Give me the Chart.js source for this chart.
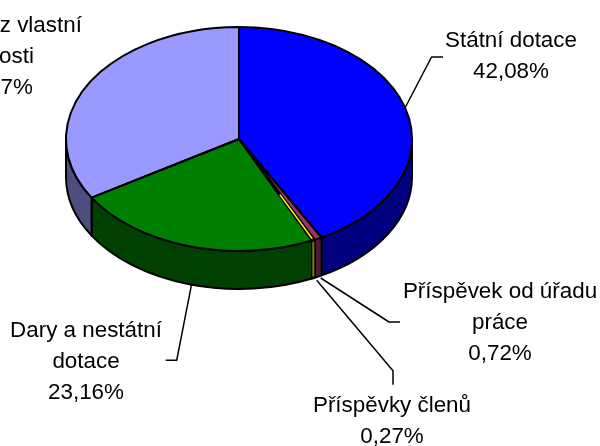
<!DOCTYPE html>
<html><head><meta charset="utf-8">
<style>html,body{margin:0;padding:0;background:#fff}canvas{display:block}</style>
<script src="https://cdn.jsdelivr.net/npm/chart.js@4"></script>
</head><body>
<canvas id="c" width="600" height="446"></canvas>
<script>
const categories = ["Státní dotace", "Příspěvek od úřadu práce", "Příspěvky členů", "Dary a nestátní dotace", "Příjmy z vlastní činnosti"];
const values = [42.08, 0.72, 0.27, 23.16, 33.77];
const topColors = ["#0000FF", "#993366", "#FFFF00", "#008000", "#9999FF"];
const sideColors = ["#000080", "#4D1933", "#808000", "#004000", "#4D4D80"];
const labelLines = [["Státní dotace"], ["Příspěvek od úřadu", "práce"], ["Příspěvky členů"], ["Dary a nestátní", "dotace"], ["Příjmy z vlastní", "činnosti"]];
const labelCenters = [[511, 41], [500, 292], [392, 406], [86, 331], [-5, 26]];
const lineShifts = [[], [], [], [], [11, 1, 0]];
const leaders = [
  [[405,108],[431.5,57],[443,57]],
  [[320.7,278],[389,322],[400,322]],
  [[316.7,280.3],[393,370.7],[393,384.7]],
  [[191.7,283.7],[176.7,360.3],[165.7,360.3]],
  []
];
const squash = 112 / 173, depth = 38, lineW = 2;
const fontSpec = '22.4px "Liberation Sans", Arial, sans-serif', lineGap = 31;

const pie3d = {
  id: 'pie3d',
  beforeDatasetsDraw(chart) {
    const ctx = chart.ctx, arcs = chart.getDatasetMeta(0).data;
    const cx = arcs[0].x, cy = arcs[0].y, rx = arcs[0].outerRadius, ry = rx * squash;
    ctx.save();
    ctx.lineWidth = lineW; ctx.strokeStyle = '#000'; ctx.lineJoin = 'round';
    arcs.forEach((a, i) => {
      const a0 = Math.max(a.startAngle, 0), a1 = Math.min(a.endAngle, Math.PI);
      if (a1 <= a0) return;
      ctx.beginPath();
      ctx.ellipse(cx, cy, rx, ry, 0, a0, a1);
      ctx.ellipse(cx, cy + depth, rx, ry, 0, a1, a0, true);
      ctx.closePath();
      ctx.fillStyle = sideColors[i];
      ctx.fill(); ctx.stroke();
    });
    // narrow slices keep their colour visible between the black outlines
    arcs.forEach((a, i) => {
      if (values[i] >= 1) return;
      const m = (a.startAngle + a.endAngle) / 2;
      const x = cx + rx * Math.cos(m), y = cy + ry * Math.sin(m);
      ctx.beginPath(); ctx.moveTo(x, y + 2); ctx.lineTo(x, y + depth - 2);
      ctx.strokeStyle = sideColors[i]; ctx.lineWidth = 2; ctx.stroke();
    });
    ctx.restore();
    ctx.save();
    ctx.translate(cx, cy); ctx.scale(1, squash); ctx.translate(-cx, -cy);
  },
  afterDatasetsDraw(chart) {
    const ctx = chart.ctx, arcs = chart.getDatasetMeta(0).data;
    ctx.restore();
    const cx = arcs[0].x, cy = arcs[0].y, rx = arcs[0].outerRadius, ry = rx * squash;
    ctx.save();
    ctx.lineWidth = lineW; ctx.strokeStyle = '#000'; ctx.lineJoin = 'round';
    arcs.forEach(a => {
      ctx.beginPath();
      ctx.moveTo(cx, cy);
      ctx.ellipse(cx, cy, rx, ry, 0, a.startAngle, a.endAngle);
      ctx.closePath();
      ctx.stroke();
    });
    arcs.forEach((a, i) => {
      if (values[i] >= 1) return;
      const m = (a.startAngle + a.endAngle) / 2;
      const c = Math.cos(m), s = Math.sin(m);
      ctx.beginPath();
      ctx.moveTo(cx + rx * 0.55 * c, cy + ry * 0.55 * s);
      ctx.lineTo(cx + rx * 0.985 * c, cy + ry * 0.985 * s);
      ctx.strokeStyle = topColors[i]; ctx.lineWidth = 1.6; ctx.stroke();
    });
    ctx.strokeStyle = '#000';
    leaders.forEach(pts => {
      if (!pts.length) return;
      ctx.beginPath();
      pts.forEach((p, k) => k ? ctx.lineTo(p[0], p[1]) : ctx.moveTo(p[0], p[1]));
      ctx.lineWidth = 1.5;
      ctx.stroke();
    });
    ctx.fillStyle = '#000';
    ctx.font = fontSpec;
    ctx.textAlign = 'center';
    ctx.textBaseline = 'middle';
    values.forEach((v, i) => {
      const lines = labelLines[i].concat(v.toFixed(2).replace('.', ',') + '%');
      lines.forEach((t, k) => ctx.fillText(t, labelCenters[i][0] + (lineShifts[i][k] || 0), labelCenters[i][1] + k * lineGap));
    });
    ctx.restore();
  }
};

new Chart(document.getElementById('c'), {
  type: 'pie',
  data: {
    labels: categories,
    datasets: [{ data: values, backgroundColor: topColors, borderWidth: 0, radius: 173, clip: false }]
  },
  options: {
    responsive: false,
    animation: false,
    layout: { padding: { left: 66, right: 188, top: 0, bottom: 168 } },
    plugins: { legend: { display: false }, tooltip: { enabled: false } }
  },
  plugins: [pie3d]
});
</script>
</body></html>
